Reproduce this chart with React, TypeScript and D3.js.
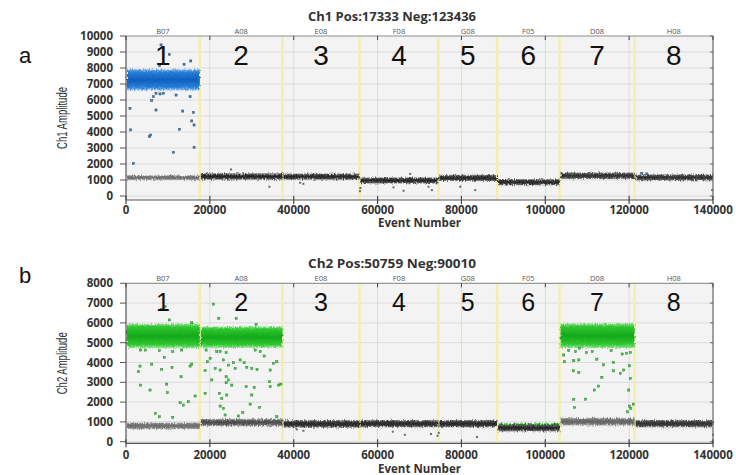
import React from "react";
import * as d3 from "d3";

// Wells on the plate, in run order, with the event number where each well starts
const wellNames = ["B07", "A08", "E08", "F08", "G08", "F05", "D08", "H08"];
const wellNumbers = ["1", "2", "3", "4", "5", "6", "7", "8"];
const wellEdges = [0, 17600, 37300, 55700, 74500, 88500, 103400, 121300, 140000];
const xTicks = [0, 20000, 40000, 60000, 80000, 100000, 120000, 140000];

// ---- Channel 1 ----
const ch1Title = "Ch1 Pos:17333 Neg:123436";
const ch1YTicks = [0, 1000, 2000, 3000, 4000, 5000, 6000, 7000, 8000, 9000, 10000];
// negative droplet band per well: centre amplitude, half-width, relative density
const ch1NegMid = [1150, 1220, 1210, 970, 1130, 860, 1270, 1160];
const ch1NegSpread = [150, 210, 200, 200, 200, 200, 210, 200];
const ch1NegDensity = [0.5, 0.95, 0.95, 0.95, 0.95, 0.95, 0.9, 0.9];
// positive droplet clusters: well index, centre amplitude, half-width
const ch1PosWell = [0];
const ch1PosMid = [7260];
const ch1PosSpread = [660];
// scattered droplets ("rain"): [event, amplitude]
const ch1PosRain: [number, number][] = [
  [10350, 8840], [8000, 8150], [13850, 8230], [15440, 8440], [8360, 9440],
  [6530, 6210], [7160, 6420], [8120, 6380], [8920, 6420], [6130, 5960],
  [11940, 6310], [15280, 6210], [950, 5480], [7160, 5375], [13530, 5310],
  [16080, 5230], [15680, 4690], [16240, 4440], [1110, 4130], [12730, 4170],
  [5570, 3710], [5890, 3810], [16240, 3040], [11300, 2730], [1750, 2040],
  [123000, 1420], [124200, 1380],
];
const ch1NegRain: [number, number][] = [
  [25060, 1660], [34200, 580], [41530, 830], [42300, 760], [55800, 300],
  [55900, 500], [63800, 540], [66200, 330], [67780, 1380], [72150, 580],
  [72950, 370], [79700, 580], [83300, 370], [139800, 370],
];

// ---- Channel 2 ----
const ch2Title = "Ch2 Pos:50759 Neg:90010";
const ch2YTicks = [0, 1000, 2000, 3000, 4000, 5000, 6000, 7000, 8000];
const ch2NegMid = [800, 970, 900, 910, 910, 700, 1010, 910];
const ch2NegSpread = [170, 190, 200, 190, 190, 190, 200, 190];
const ch2NegDensity = [0.5, 0.7, 0.95, 0.95, 0.95, 0.95, 0.55, 0.9];
const ch2PosWell = [0, 1, 6, 5];
const ch2PosMid = [5340, 5280, 5350, 890];
const ch2PosSpread = [620, 540, 620, 40];
const ch2PosRain: [number, number][] = [
  // B07
  [9310, 6820], [8440, 6690], [10350, 6150], [15680, 6010], [3500, 4630],
  [4620, 4630], [7960, 4600], [9150, 4260], [11140, 4550], [13290, 4630],
  [3340, 3820], [2940, 3540], [6130, 3920], [8520, 3650], [10980, 3750],
  [13130, 3280], [15280, 3820], [15680, 3920], [3500, 2860], [5730, 2610],
  [9710, 2910], [9870, 2480], [12900, 1970], [13690, 1850], [14890, 2020],
  [16480, 2310], [7000, 1430], [7960, 1260], [11140, 1230],
  // A08
  [20860, 6950], [22130, 6230], [26270, 6230], [31040, 5930], [19100, 4630],
  [20060, 4210], [19420, 4040], [21650, 4550], [22450, 4550], [23880, 4500],
  [23240, 4130], [21250, 3700], [22450, 3620], [24440, 3870], [25630, 3990],
  [26030, 3700], [27220, 4130], [28180, 3990], [28820, 3760], [30010, 3700],
  [31250, 3650], [30810, 4630], [32000, 4550], [32950, 4330], [35180, 3960],
  [35980, 4040], [34390, 3620], [18870, 3590], [20460, 3120], [23880, 3280],
  [24440, 3120], [23880, 2980], [25230, 2860], [28660, 2780], [30570, 2740],
  [34230, 3030], [34390, 2780], [36380, 2860], [36940, 2910], [22290, 2440],
  [24040, 2360], [22850, 2190], [22450, 1800], [23240, 1680], [30010, 2360],
  [29610, 1900], [23640, 1350], [26830, 1300], [27860, 1470], [31840, 1730],
  [35980, 1260], [18870, 2440],
  // D08
  [104400, 4380], [105600, 4600], [107200, 4550], [108200, 4720], [109800, 4500],
  [111200, 4550], [115700, 4600], [118340, 4430], [119400, 4470], [120300, 4500],
  [104600, 4040], [106800, 4090], [108000, 4130], [112300, 4170], [113900, 3880],
  [116300, 4000], [120100, 3830], [106700, 3580], [108000, 3490], [116300, 3580],
  [117900, 3450], [118700, 3620], [113500, 3250], [120300, 3200], [112700, 2810],
  [111700, 2610], [119900, 2610], [106800, 2140], [109600, 2150], [107000, 1730],
  [120100, 1800], [120400, 1680], [119600, 1510], [121000, 1900],
];
const ch2NegRain: [number, number][] = [
  [40740, 620], [42320, 555], [63640, 505], [66500, 350], [72730, 390],
  [74300, 300], [74600, 450], [83700, 240], [140000, 350],
];

const X0 = 126;
const X1 = 713;

type PanelProps = {
  id: string;
  letter: string;
  title: string;
  yLabel: string;
  yDomain: [number, number];
  yRange: [number, number];
  yTicks: number[];
  letterY: number;
  titleY: number;
  wellLabelY: number;
  digitY: number;
  digitSize: number;
  tickLabelY: number;
  xTitleY: number;
  negMid: number[];
  negSpread: number[];
  negDensity: number[];
  posWell: number[];
  posMid: number[];
  posSpread: number[];
  posRain: [number, number][];
  negRain: [number, number][];
  posGradient: string;
  rainFill: string;
  rainStroke: string;
};

function Panel(p: PanelProps) {
  const x = d3.scaleLinear().domain([0, 140000]).range([X0, X1]);
  const y = d3.scaleLinear().domain(p.yDomain).range(p.yRange);
  const top = p.yRange[1];
  const bottom = p.yRange[0];
  const shade = d3
    .scaleLinear<string>()
    .domain([0, 1])
    .range(["#b8b8b8", "#1c1c1c"])
    .interpolate(d3.interpolateRgb);
  const wells = wellNames.map((name, i) => ({
    name,
    num: wellNumbers[i],
    x0: wellEdges[i],
    x1: wellEdges[i + 1],
  }));
  const yMid = (top + bottom) / 2;

  return (
    <g>
      <defs>
        {wells.map((w, i) => {
          const c = shade(p.negDensity[i]);
          return (
            <linearGradient key={i} id={`${p.id}-neg-${i}`} x1="0" y1="0" x2="0" y2="1">
              <stop offset="0%" stopColor={c} stopOpacity={0.35} />
              <stop offset="22%" stopColor={c} stopOpacity={0.85} />
              <stop offset="50%" stopColor={c} stopOpacity={1} />
              <stop offset="78%" stopColor={c} stopOpacity={0.85} />
              <stop offset="100%" stopColor={c} stopOpacity={0.35} />
            </linearGradient>
          );
        })}
      </defs>

      {/* plot background and grid */}
      <rect x={X0} y={top} width={X1 - X0} height={bottom - top} fill="#f3f3f3" />
      {p.yTicks.map((t) => (
        <line key={`gy${t}`} x1={X0} x2={X1} y1={y(t)} y2={y(t)} stroke="#d6d6d6" strokeWidth={0.8} />
      ))}
      {xTicks.slice(1, -1).map((t) => (
        <line key={`gx${t}`} x1={x(t)} x2={x(t)} y1={top} y2={bottom} stroke="#d6d6d6" strokeWidth={0.8} />
      ))}

      {/* well separators */}
      {wellEdges.slice(1, -1).map((e) => (
        <line key={`sep${e}`} x1={x(e)} x2={x(e)} y1={top} y2={bottom} stroke="#f3efaa" strokeWidth={2.4} />
      ))}

      {/* droplet clusters: positives first, negatives over them */}
      <g filter={`url(#rough)`}>
        {p.posWell.map((wi, k) => {
          const w = wells[wi];
          return (
            <rect
              key={`pos${k}`}
              x={x(w.x0) + 1}
              width={x(w.x1) - x(w.x0) - 1}
              y={y(p.posMid[k] + p.posSpread[k])}
              height={y(p.posMid[k] - p.posSpread[k]) - y(p.posMid[k] + p.posSpread[k])}
              fill={`url(#${p.posGradient})`}
            />
          );
        })}
        {wells.map((w, i) => (
          <rect
            key={`neg${i}`}
            x={x(w.x0) + 1}
            width={x(w.x1) - x(w.x0) - 1}
            y={y(p.negMid[i] + p.negSpread[i])}
            height={y(p.negMid[i] - p.negSpread[i]) - y(p.negMid[i] + p.negSpread[i])}
            fill={`url(#${p.id}-neg-${i})`}
          />
        ))}
      </g>

      {/* scattered droplets */}
      {p.negRain.map(([ev, a], i) => (
        <rect key={`nr${i}`} x={x(ev) - 1} y={y(a) - 1} width={2} height={2} fill="#6a6a6a" />
      ))}
      {p.posRain.map(([ev, a], i) => (
        <rect
          key={`pr${i}`}
          x={x(ev) - 1.1}
          y={y(a) - 1.1}
          width={2.2}
          height={2.2}
          fill={p.rainFill}
          stroke={p.rainStroke}
          strokeWidth={0.4}
        />
      ))}

      {/* frame */}
      <line x1={X0} x2={X1} y1={top} y2={top} stroke="#9a9a9a" strokeWidth={1.2} />
      <line x1={X1} x2={X1} y1={top} y2={bottom} stroke="#666" strokeWidth={1.2} />
      <line x1={X0} x2={X1} y1={bottom} y2={bottom} stroke="#555" strokeWidth={1.2} />
      <line x1={X0} x2={X0} y1={top} y2={bottom} stroke="#555" strokeWidth={1.2} />

      {/* y axis */}
      {p.yTicks.map((t) => (
        <g key={`yt${t}`}>
          <line x1={X0 - 6} x2={X0} y1={y(t)} y2={y(t)} stroke="#555" strokeWidth={1} />
          <line x1={X1 - 3} x2={X1} y1={y(t)} y2={y(t)} stroke="#666" strokeWidth={1} />
          <text
            x={X0 - 13}
            y={y(t)}
            dy="0.35em"
            textAnchor="end"
            fontSize={11.5}
            fontWeight={700}
            fill="#333"
          >
            {t}
          </text>
        </g>
      ))}
      <text
        transform={`translate(67,${yMid}) rotate(-90)`}
        textAnchor="middle"
        fontFamily="'Liberation Sans', Arial, sans-serif"
        fontSize={14}
        textLength={62}
        lengthAdjust="spacingAndGlyphs"
        fill="#333"
      >
        {p.yLabel}
      </text>

      {/* x axis */}
      {xTicks.map((t) => (
        <g key={`xt${t}`}>
          <line x1={x(t)} x2={x(t)} y1={bottom - 4} y2={bottom + 4} stroke="#444" strokeWidth={1.2} />
          <line x1={x(t)} x2={x(t)} y1={top} y2={top + 4} stroke="#444" strokeWidth={1} />
          <text x={x(t)} y={p.tickLabelY} textAnchor="middle" fontSize={11.5} fontWeight={700} fill="#333">
            {t}
          </text>
        </g>
      ))}
      <text x={(X0 + X1) / 2} y={p.xTitleY} textAnchor="middle" fontSize={11.5} fontWeight={700} fill="#333">
        Event Number
      </text>

      {/* title, well names, well numbers, panel letter */}
      <text
        x={392}
        y={p.titleY}
        textAnchor="middle"
        fontSize={12}
        fontWeight={700}
        textLength={168}
        lengthAdjust="spacingAndGlyphs"
        fill="#333"
      >
        {p.title}
      </text>
      {wells.map((w, i) => (
        <text
          key={`wn${i}`}
          x={x((w.x0 + w.x1) / 2)}
          y={p.wellLabelY}
          textAnchor="middle"
          fontSize={7.5}
          fill="#555"
        >
          {w.name}
        </text>
      ))}
      {wells.map((w, i) => (
        <text
          key={`wd${i}`}
          x={x((w.x0 + w.x1) / 2)}
          y={p.digitY}
          textAnchor="middle"
          fontFamily="'Liberation Sans', Arial, sans-serif"
          fontSize={p.digitSize}
          fill="#111"
        >
          {w.num}
        </text>
      ))}
      <text
        x={25}
        y={p.letterY}
        textAnchor="middle"
        fontFamily="'Liberation Sans', Arial, sans-serif"
        fontSize={22}
        fill="#111"
      >
        {p.letter}
      </text>
    </g>
  );
}

export default function App() {
  return (
    <svg
      width={736}
      height={475}
      viewBox="0 0 736 475"
      style={{ position: "absolute", left: 0, top: 0, display: "block" }}
      fontFamily="'Open Sans', sans-serif"
    >
      <defs>
        <filter id="rough" x="-2%" y="-30%" width="104%" height="160%">
          <feTurbulence type="fractalNoise" baseFrequency="0.9 0.35" numOctaves={2} seed={3} result="n" />
          <feDisplacementMap in="SourceGraphic" in2="n" scale={4} xChannelSelector="R" yChannelSelector="G" />
        </filter>
        <linearGradient id="blueBand" x1="0" y1="0" x2="0" y2="1">
          <stop offset="0%" stopColor="#4c98e2" stopOpacity={0.6} />
          <stop offset="12%" stopColor="#2a80d8" />
          <stop offset="50%" stopColor="#0f5fbf" />
          <stop offset="85%" stopColor="#2a80d8" />
          <stop offset="100%" stopColor="#4c98e2" stopOpacity={0.6} />
        </linearGradient>
        <linearGradient id="greenBand" x1="0" y1="0" x2="0" y2="1">
          <stop offset="0%" stopColor="#55d455" stopOpacity={0.6} />
          <stop offset="12%" stopColor="#30c830" />
          <stop offset="50%" stopColor="#13a81a" />
          <stop offset="85%" stopColor="#30c830" />
          <stop offset="100%" stopColor="#55d455" stopOpacity={0.6} />
        </linearGradient>
      </defs>
      <rect width={736} height={475} fill="#fff" />
      <Panel
        id="ch1"
        letter="a"
        title={ch1Title}
        yLabel="Ch1 Amplitude"
        yDomain={[-250, 10000]}
        yRange={[200, 36]}
        yTicks={ch1YTicks}
        letterY={63}
        titleY={21}
        wellLabelY={34}
        digitY={65}
        digitSize={28}
        tickLabelY={214}
        xTitleY={227}
        negMid={ch1NegMid}
        negSpread={ch1NegSpread}
        negDensity={ch1NegDensity}
        posWell={ch1PosWell}
        posMid={ch1PosMid}
        posSpread={ch1PosSpread}
        posRain={ch1PosRain}
        negRain={ch1NegRain}
        posGradient="blueBand"
        rainFill="#4a79a3"
        rainStroke="#2c4f70"
      />
      <Panel
        id="ch2"
        letter="b"
        title={ch2Title}
        yLabel="Ch2 Amplitude"
        yDomain={[-80, 8000]}
        yRange={[443.3, 283.3]}
        yTicks={ch2YTicks}
        letterY={283}
        titleY={268}
        wellLabelY={281}
        digitY={311}
        digitSize={25}
        tickLabelY={459}
        xTitleY={473}
        negMid={ch2NegMid}
        negSpread={ch2NegSpread}
        negDensity={ch2NegDensity}
        posWell={ch2PosWell}
        posMid={ch2PosMid}
        posSpread={ch2PosSpread}
        posRain={ch2PosRain}
        negRain={ch2NegRain}
        posGradient="greenBand"
        rainFill="#45c545"
        rainStroke="#2a7a2a"
      />
    </svg>
  );
}
